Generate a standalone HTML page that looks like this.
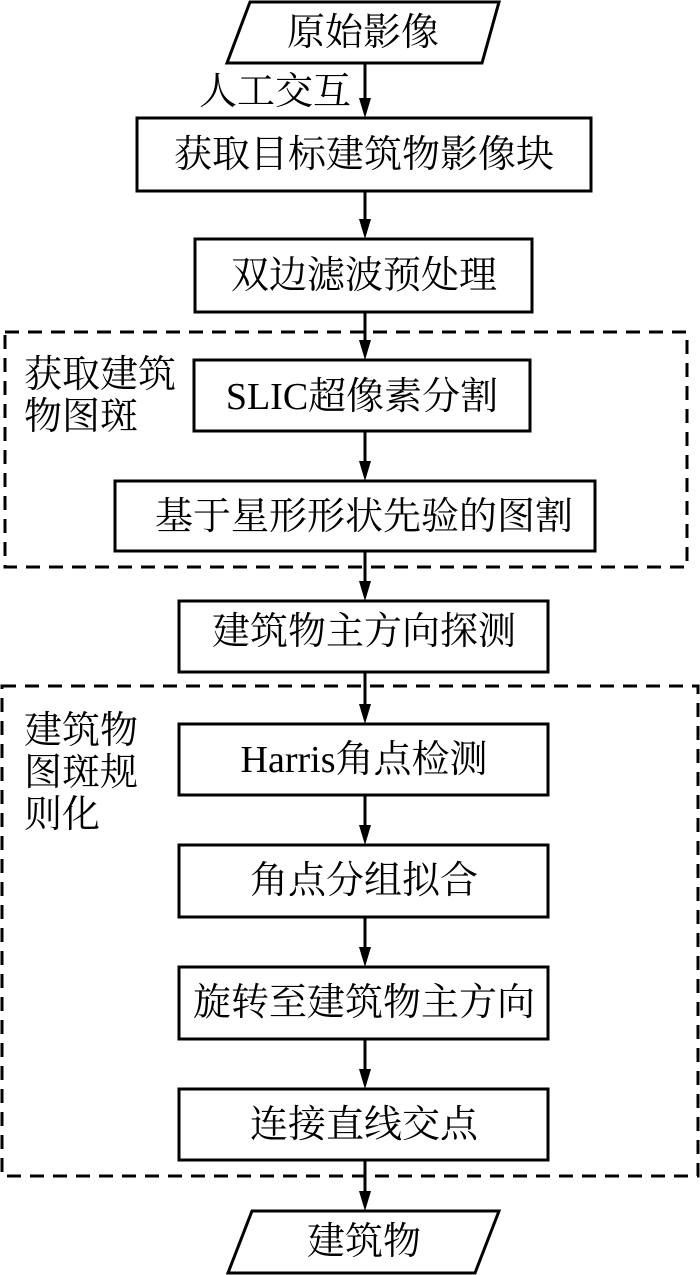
<!DOCTYPE html>
<html><head><meta charset="utf-8"><style>
html,body{margin:0;padding:0;background:#fff;}
svg{display:block;}
text{font-family:"Liberation Serif","Noto Serif CJK SC",serif;font-size:38px;fill:#000;}
</style></head><body>
<svg width="700" height="1275" viewBox="0 0 700 1275" xmlns="http://www.w3.org/2000/svg">
<defs>
<marker id="a" markerWidth="12" markerHeight="20" refX="6" refY="20" orient="auto-start-reverse" markerUnits="userSpaceOnUse" viewBox="0 0 12 20">
<path d="M0,0 L12,0 L6,20 Z" fill="#000"/>
</marker>
</defs>
<g fill="none" stroke="#000" stroke-width="3">
<polygon points="250,2 499,2 482,63 227,63"/>
<rect x="137" y="118" width="454" height="73"/>
<rect x="195" y="239" width="337" height="73"/>
<rect x="194" y="360" width="336" height="71"/>
<rect x="115" y="481" width="480" height="70"/>
<rect x="179" y="601" width="369" height="71"/>
<rect x="179" y="724" width="369" height="71"/>
<rect x="179" y="845" width="369" height="72"/>
<rect x="179" y="967" width="369" height="72"/>
<rect x="179" y="1089" width="369" height="71"/>
<polygon points="252,1211 499,1211 475,1273 228,1273"/>
</g>
<g fill="none" stroke="#000" stroke-width="3" stroke-dasharray="14,9">
<rect x="5" y="332" width="682" height="235"/>
<rect x="2" y="686" width="696" height="490"/>
</g>
<g stroke="#000" stroke-width="3">
<line x1="365" y1="63" x2="365" y2="100"/>
<line x1="365" y1="191" x2="365" y2="220"/>
<line x1="365" y1="312" x2="365" y2="341"/>
<line x1="365" y1="431" x2="365" y2="462"/>
<line x1="365" y1="551" x2="365" y2="582"/>
<line x1="365" y1="672" x2="365" y2="705"/>
<line x1="365" y1="795" x2="365" y2="826"/>
<line x1="365" y1="917" x2="365" y2="948"/>
<line x1="365" y1="1039" x2="365" y2="1070"/>
<line x1="365" y1="1160" x2="365" y2="1192"/>
</g>
<g fill="#000">
<path d="M359,98 L371,98 L365,118 Z"/>
<path d="M359,219 L371,219 L365,239 Z"/>
<path d="M359,340 L371,340 L365,360 Z"/>
<path d="M359,461 L371,461 L365,481 Z"/>
<path d="M359,581 L371,581 L365,601 Z"/>
<path d="M359,704 L371,704 L365,724 Z"/>
<path d="M359,825 L371,825 L365,845 Z"/>
<path d="M359,947 L371,947 L365,967 Z"/>
<path d="M359,1069 L371,1069 L365,1089 Z"/>
<path d="M359,1191 L371,1191 L365,1211 Z"/>
</g>
<g text-anchor="middle" dominant-baseline="central">
<text x="363" y="33">原始影像</text>
<text x="275" y="92">人工交互</text>
<text x="364" y="155">获取目标建筑物影像块</text>
<text x="364" y="276">双边滤波预处理</text>
<text x="362" y="397">SLIC超像素分割</text>
<text x="364" y="517">基于星形形状先验的图割</text>
<text x="364" y="632">建筑物主方向探测</text>
<text x="364" y="760">Harris角点检测</text>
<text x="364" y="881">角点分组拟合</text>
<text x="364" y="1003">旋转至建筑物主方向</text>
<text x="364" y="1125">连接直线交点</text>
<text x="364" y="1242">建筑物</text>
</g>
<g dominant-baseline="central">
<text x="24" y="375">获取建筑</text>
<text x="24" y="417">物图斑</text>
<text x="24" y="731">建筑物</text>
<text x="24" y="773">图斑规</text>
<text x="24" y="815">则化</text>
</g>
</svg>
</body></html>
